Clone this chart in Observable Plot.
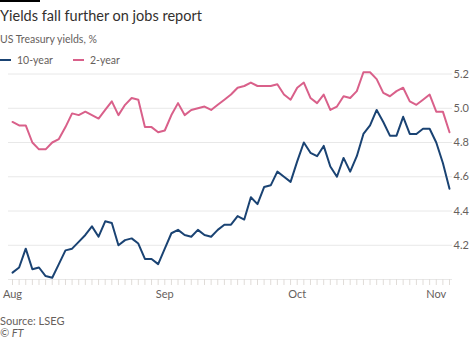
<!DOCTYPE html>
<html><head><meta charset="utf-8">
<script src="https://cdn.jsdelivr.net/npm/d3@7"></script>
<script src="https://cdn.jsdelivr.net/npm/@observablehq/plot@0.6"></script>
<style>
html,body{margin:0;padding:0;background:#fff}
body{width:474px;height:338px;overflow:hidden;position:relative;font-family:Lato,"Open Sans",sans-serif;color:#66605c}
#bar{position:absolute;left:0;top:0;width:40px;height:2px;background:#000}
#title{position:absolute;left:0;top:6px;font-size:14.5px;line-height:20px;color:#33302e;white-space:nowrap}
#subtitle{position:absolute;left:0;top:32px;font-size:10.5px;line-height:14px;white-space:nowrap}
#legend{position:absolute;left:0;top:53px;font-size:10.5px;line-height:14px;white-space:nowrap;display:flex;align-items:center}
.sw{display:inline-block;width:11px;height:2px;margin-right:6px}
.item{display:flex;align-items:center;margin-right:20px}
#chart{position:absolute;left:0;top:64px}
#source{position:absolute;left:0;top:314px;font-size:11px;line-height:13px;white-space:nowrap}
#ft{position:absolute;left:0;top:326px;font-size:11px;line-height:13px;font-style:italic;white-space:nowrap}
</style>
</head><body>
<div id="bar"></div>
<div id="title">Yields fall further on jobs report</div>
<div id="subtitle">US Treasury yields, %</div>
<div id="legend"></div>
<div id="chart"></div>
<div id="source">Source: LSEG</div>
<div id="ft">© FT</div>
<script>
const dates = [
 "2023-08-01","2023-08-02","2023-08-03","2023-08-04","2023-08-07","2023-08-08","2023-08-09","2023-08-10","2023-08-11",
 "2023-08-14","2023-08-15","2023-08-16","2023-08-17","2023-08-18","2023-08-21","2023-08-22","2023-08-23","2023-08-24","2023-08-25",
 "2023-08-28","2023-08-29","2023-08-30","2023-08-31",
 "2023-09-01","2023-09-05","2023-09-06","2023-09-07","2023-09-08","2023-09-11","2023-09-12","2023-09-13","2023-09-14","2023-09-15",
 "2023-09-18","2023-09-19","2023-09-20","2023-09-21","2023-09-22","2023-09-25","2023-09-26","2023-09-27","2023-09-28","2023-09-29",
 "2023-10-02","2023-10-03","2023-10-04","2023-10-05","2023-10-06","2023-10-10","2023-10-11","2023-10-12","2023-10-13",
 "2023-10-16","2023-10-17","2023-10-18","2023-10-19","2023-10-20","2023-10-23","2023-10-24","2023-10-25","2023-10-26","2023-10-27",
 "2023-10-30","2023-10-31",
 "2023-11-01","2023-11-02","2023-11-03"
];
const tenYear = [
 4.04,4.07,4.18,4.06,4.07,4.02,4.01,4.09,4.17,4.18,
 4.22,4.26,4.31,4.25,4.34,4.33,4.20,4.23,4.24,4.21,
 4.12,4.12,4.09,4.18,4.27,4.29,4.26,4.25,4.29,4.26,
 4.25,4.29,4.32,4.32,4.37,4.35,4.48,4.44,4.54,4.55,
 4.63,4.60,4.57,4.69,4.80,4.74,4.72,4.78,4.66,4.60,
 4.71,4.63,4.72,4.85,4.90,4.99,4.92,4.84,4.84,4.95,
 4.85,4.85,4.88,4.88,4.80,4.68,4.53
];
const twoYear = [
 4.92,4.90,4.90,4.80,4.76,4.76,4.80,4.82,4.89,4.97,
 4.96,4.98,4.96,4.94,4.99,5.04,4.96,5.02,5.06,5.05,
 4.89,4.89,4.86,4.87,4.96,5.03,4.96,4.99,5.00,5.01,
 4.99,5.02,5.05,5.08,5.12,5.13,5.15,5.13,5.13,5.13,
 5.14,5.08,5.05,5.12,5.15,5.06,5.03,5.08,4.99,5.01,
 5.07,5.06,5.10,5.21,5.21,5.17,5.09,5.07,5.10,5.12,
 5.04,5.02,5.05,5.08,4.98,4.98,4.86
];
const seriesNames = ["10-year","2-year"];
const seriesColors = ["#1a4373","#d9608a"];
const monthTicks = ["2023-08-01","2023-09-01","2023-10-02","2023-11-01"];
const monthLabels = ["Aug","Sep","Oct","Nov"];
const gridValues = [4.0,4.2,4.4,4.6,4.8,5.0,5.2];
const yLabels = [4.2,4.4,4.6,4.8,5.0,5.2];

const legend = document.getElementById("legend");
seriesNames.forEach((n,i)=>{
  const it = document.createElement("span"); it.className="item";
  const sw = document.createElement("span"); sw.className="sw"; sw.style.background=seriesColors[i];
  it.appendChild(sw); it.appendChild(document.createTextNode(n)); legend.appendChild(it);
});

const data = dates.flatMap((d,i)=>[
  {date:d, value:tenYear[i], series:seriesNames[0]},
  {date:d, value:twoYear[i], series:seriesNames[1]}
]);

const chart = Plot.plot({
  width:474, height:240,
  marginTop:9.5, marginBottom:25, marginLeft:12, marginRight:25,
  style:{fontFamily:"Lato, 'Open Sans', sans-serif", fontSize:"11px", color:"#66605c", background:"transparent"},
  x:{type:"point", domain:dates, padding:0, label:null},
  y:{domain:[4.0,5.2], label:null},
  color:{domain:seriesNames, range:seriesColors},
  marks:[
    Plot.ruleY(gridValues, {stroke:"#e8e8e8", strokeWidth:1, insetLeft:-4, insetRight:-3}),
    Plot.axisX({ticks:dates, tickSize:6, tickFormat:()=>"", stroke:"#e0dcd8", label:null}),
    Plot.axisX({ticks:monthTicks, tickSize:0, tickPadding:11, tickFormat:d=>monthLabels[monthTicks.indexOf(d)], fill:"#66605c", label:null}),
    Plot.axisY({ticks:yLabels, anchor:"right", tickSize:0, tickPadding:4, tickFormat:d3.format(".1f"), fill:"#66605c", label:null}),
    Plot.line(data, {x:"date", y:"value", z:"series", stroke:"series", strokeWidth:2, strokeLinejoin:"round"})
  ]
});
document.getElementById("chart").appendChild(chart);
</script>
</body></html>
